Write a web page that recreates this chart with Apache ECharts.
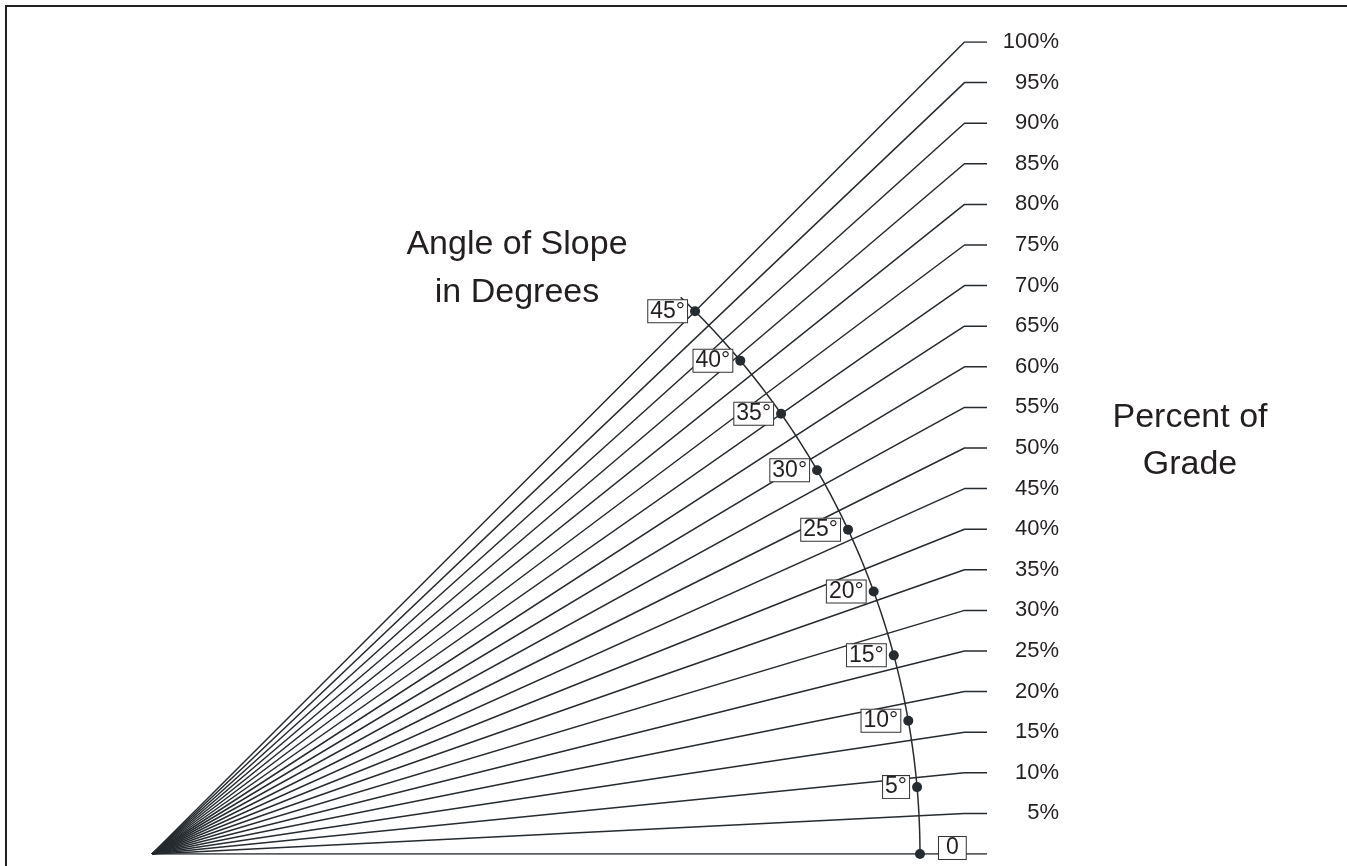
<!DOCTYPE html>
<html>
<head>
<meta charset="utf-8">
<script src="https://cdn.jsdelivr.net/npm/echarts@6/dist/echarts.min.js"></script>
<style>
  html, body { margin: 0; padding: 0; background: #fff; }
  #main { width: 1347px; height: 866px; }
</style>
</head>
<body>
<div id="main"></div>
<script>
  // percent of grade for each ray
  var grades = [0, 5, 10, 15, 20, 25, 30, 35, 40, 45, 50, 55, 60, 65, 70, 75, 80, 85, 90, 95, 100];
  var gradeLabels = ['', '5%', '10%', '15%', '20%', '25%', '30%', '35%', '40%', '45%', '50%',
    '55%', '60%', '65%', '70%', '75%', '80%', '85%', '90%', '95%', '100%'];
  // angle of slope marks on the arc
  var degrees = [0, 5, 10, 15, 20, 25, 30, 35, 40, 45];
  var degreeLabels = ['0', '5°', '10°', '15°', '20°', '25°', '30°', '35°', '40°', '45°'];
  var arcEnd = 46.6; // arc runs a little past 45°

  var ink = '#262b2f';
  var textInk = '#231f20';
  var font = '"Liberation Sans", Arial, sans-serif';
  var radius = 0.9452;   // arc radius, in run units
  var tickEnd = 1.0277;  // end of the short horizontal tick
  var labelX = 1.1163;   // right edge of the % labels

  var myChart = echarts.init(document.getElementById('main'));

  var series = [];
  grades.forEach(function (g) {
    series.push({
      type: 'line',
      data: [[0, 0], [1, g / 100], [tickEnd, g / 100]],
      showSymbol: false,
      silent: true,
      lineStyle: { color: ink, width: 1.5, opacity: 1 },
      z: 2
    });
  });

  // % labels
  series.push({
    type: 'scatter',
    symbolSize: 0,
    silent: true,
    itemStyle: { opacity: 1 },
    data: grades.map(function (g, i) { return { value: [labelX, g / 100], name: gradeLabels[i] }; }),
    label: {
      show: true,
      position: 'left',
      distance: 0,
      formatter: '{b}',
      fontFamily: font,
      fontSize: 22,
      color: textInk,
      opacity: 1
    }
  });

  // the arc
  var arc = [];
  for (var a = 0; a <= arcEnd + 1e-9; a += 0.5) {
    var r = a * Math.PI / 180;
    arc.push([radius * Math.cos(r), radius * Math.sin(r)]);
  }
  series.push({
    type: 'line',
    data: arc,
    showSymbol: false,
    silent: true,
    lineStyle: { color: ink, width: 1.5 },
    z: 3
  });

  // degree dots and boxed labels
  series.push({
    type: 'scatter',
    symbolSize: 10,
    silent: true,
    itemStyle: { color: ink, opacity: 1 },
    z: 5,
    data: degrees.map(function (d, i) {
      var r = d * Math.PI / 180;
      var item = {
        value: [radius * Math.cos(r), radius * Math.sin(r)],
        name: degreeLabels[i]
      };
      if (d === 0) {
        item.label = { position: 'right', distance: 14, offset: [0, -6], padding: [1, 7, 0, 7] };
      }
      return item;
    }),
    label: {
      show: true,
      position: 'left',
      distance: 3,
      formatter: '{b}',
      fontFamily: font,
      fontSize: 23,
      lineHeight: 21,
      color: textInk,
      opacity: 1,
      backgroundColor: '#fff',
      borderColor: '#333',
      borderWidth: 1,
      padding: [1, 2, 0, 2]
    }
  });

  var option = {
    animation: false,
    backgroundColor: '#fff',
    grid: { left: 152, top: 42, width: 975, height: 812 },
    xAxis: { type: 'value', min: 0, max: 1.2, show: false },
    yAxis: { type: 'value', min: 0, max: 1, show: false },
    graphic: [
      {
        type: 'polyline',
        shape: { points: [[6, 866], [6, 6], [1347, 6]] },
        style: { stroke: '#222', lineWidth: 2, fill: null }
      },
      {
        type: 'text',
        x: 517, y: 221,
        style: {
          text: 'Angle of Slope\nin Degrees',
          font: '34px ' + font,
          lineHeight: 48,
          textAlign: 'center',
          textVerticalAlign: 'top',
          fill: textInk
        }
      },
      {
        type: 'text',
        x: 1190, y: 394,
        style: {
          text: 'Percent of\nGrade',
          font: '34px ' + font,
          lineHeight: 47,
          textAlign: 'center',
          textVerticalAlign: 'top',
          fill: textInk
        }
      }
    ],
    series: series
  };
  myChart.setOption(option);
</script>
</body>
</html>
